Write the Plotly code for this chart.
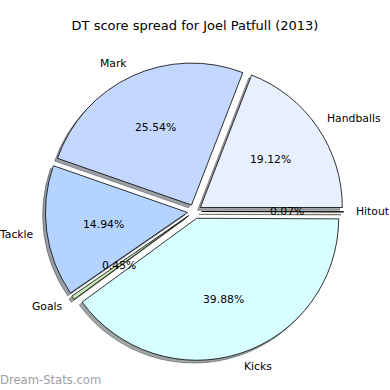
import numpy as np
import plotly.graph_objects as go

# ---- data ----
categories = ["Hitout", "Handballs", "Mark", "Tackle", "Goals", "Kicks"]
values = [0.07, 19.12, 25.54, 14.94, 0.45, 39.88]
colors = ["#ffd8b0", "#e8f0ff", "#c4d8ff", "#b4d4ff", "#c8e4b8", "#d8ffff"]
pulls = [0.05, 0.05, 0.05, 0.05, 0.05, 0.05]
title_text = "DT score spread for Joel Patfull (2013)"
watermark = "Dream-Stats.com"

W = H = 390
cx, cy = 194.5, 211.5          # pie centre in px (from top-left)
r = 142.0                      # pie radius in px
maxpull = max(pulls)
half = r * (1 + maxpull)

dx0 = (cx - half) / W
dx1 = (cx + half) / W
dy0 = (H - cy - half) / H
dy1 = (H - cy + half) / H
sh = 2.8 / W                   # shadow offset


def shadow_color(hexc):
    h = hexc.lstrip("#")
    rgb = [int(h[i:i + 2], 16) for i in (0, 2, 4)]
    return "rgba(%d,%d,%d,0.5)" % tuple(int(0.3 * c) for c in rgb)


shadow_cols = [shadow_color(c) for c in colors]

fig = go.Figure()

# shadow
fig.add_trace(go.Pie(
    labels=categories, values=values, sort=False, direction="counterclockwise",
    rotation=90, pull=pulls, textinfo="none", hoverinfo="skip",
    marker=dict(colors=shadow_cols, line=dict(color=shadow_cols, width=1)),
    domain=dict(x=[dx0 - sh, dx1 - sh], y=[dy0 - sh, dy1 - sh]),
    showlegend=False,
))

# main pie
fig.add_trace(go.Pie(
    labels=categories, values=values, sort=False, direction="counterclockwise",
    rotation=90, pull=pulls, textinfo="none",
    marker=dict(colors=colors, line=dict(color="black", width=0.8)),
    domain=dict(x=[dx0, dx1], y=[dy0, dy1]),
    showlegend=False,
))

# invisible scatter to establish axes for text placement (1 unit = radius)
fig.add_trace(go.Scatter(x=[0], y=[0], mode="markers",
                         marker=dict(opacity=0), hoverinfo="skip",
                         showlegend=False))

fig.update_xaxes(domain=[0, 1], range=[-cx / r, (W - cx) / r],
                 visible=False, fixedrange=True)
fig.update_yaxes(domain=[0, 1], range=[(cy - H) / r, cy / r],
                 visible=False, fixedrange=True)

vals = np.array(values, dtype=float)
total = vals.sum()
cum = np.concatenate([[0], np.cumsum(vals)[:-1]])
mids = 2 * np.pi * (cum + vals / 2) / total

FS = 10.8
annotations = []
for lab, v, p, th in zip(categories, vals, pulls, mids):
    c, s = np.cos(th), np.sin(th)
    lx, ly = (p + 1.1) * c, (p + 1.1) * s
    annotations.append(dict(
        x=lx, y=ly, xref="x", yref="y", text=lab, showarrow=False,
        xanchor="left" if lx > 0 else "right", yanchor="middle",
        xshift=-3.5 if lx > 0 else 3.5,
        font=dict(family="DejaVu Sans", size=FS, color="black")))
    px, py = (p + 0.6) * c, (p + 0.6) * s
    annotations.append(dict(
        x=px, y=py, xref="x", yref="y", text="%.2f%%" % (100 * v / total),
        showarrow=False, xanchor="center", yanchor="middle",
        font=dict(family="DejaVu Sans", size=FS, color="black")))

annotations.append(dict(
    x=0, y=0, xref="paper", yref="paper", xanchor="left", yanchor="bottom",
    text=watermark, showarrow=False, yshift=1, xshift=-2,
    font=dict(family="DejaVu Sans", size=11.6, color="#a0a0a0")))

fig.update_layout(
    width=W, height=H,
    margin=dict(l=0, r=0, t=0, b=0),
    paper_bgcolor="white", plot_bgcolor="white",
    title=dict(text=title_text, x=0.5, xanchor="center", y=1 - 25 / H,
               yanchor="middle",
               font=dict(family="DejaVu Sans", size=13, color="black")),
    annotations=annotations,
)

fig.write_html("out.html", config={"displayModeBar": False},
               post_script="document.body.style.margin='0';")
